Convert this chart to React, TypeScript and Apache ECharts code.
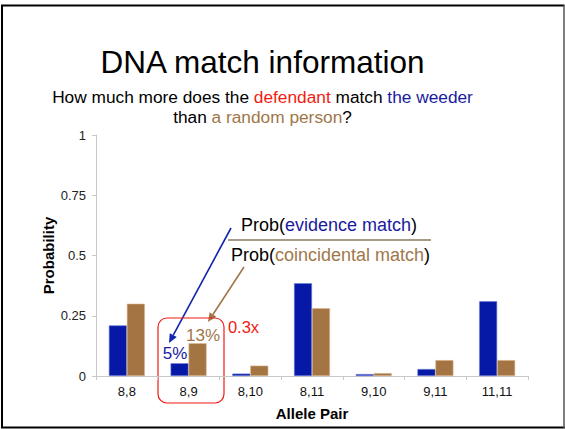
import React, { useEffect, useRef } from "react";
import * as echarts from "echarts";

const categories = ["8,8", "8,9", "8,10", "8,11", "9,10", "9,11", "11,11"];
const evidenceMatch = [0.21, 0.053, 0.01, 0.385, 0.008, 0.029, 0.31];
const coincidentalMatch = [0.3, 0.136, 0.043, 0.281, 0.012, 0.066, 0.066];
const yTicks = [0, 0.25, 0.5, 0.75, 1];

const FONT = "'Liberation Sans', Arial, Helvetica, sans-serif";
const BLUE = "#0619a6";
const BROWN = "#a47443";
const TXT_BLUE = "#1a1a9e";
const TXT_BROWN = "#a0774a";
const RED = "#f21b12";

function arrow(x1: number, y1: number, x2: number, y2: number, color: string) {
  const dx = x2 - x1;
  const dy = y2 - y1;
  const len = Math.sqrt(dx * dx + dy * dy);
  const ux = dx / len;
  const uy = dy / len;
  const hl = 9;
  const hw = 4;
  const bx = x2 - ux * hl;
  const by = y2 - uy * hl;
  const px = -uy * hw;
  const py = ux * hw;
  return [
    {
      type: "line",
      shape: { x1, y1, x2: bx, y2: by },
      style: { stroke: color, lineWidth: 1.6 },
    },
    {
      type: "polygon",
      shape: {
        points: [
          [x2, y2],
          [bx + px, by + py],
          [bx - px, by - py],
        ],
      },
      style: { fill: color },
    },
  ];
}

export default function App() {
  const ref = useRef<HTMLDivElement>(null);

  useEffect(() => {
    document.body.style.margin = "0";
    if (!ref.current) return;
    const chart = echarts.init(ref.current, null, { renderer: "svg" });
    const option: any = {
      animation: false,
      backgroundColor: "#ffffff",
      grid: { left: 96, right: 37, top: 135, bottom: 53 },
      xAxis: {
        type: "category",
        data: categories,
        name: "Allele Pair",
        nameLocation: "middle",
        nameGap: 30,
        nameMoveOverlap: false,
        nameTextStyle: { fontFamily: FONT, fontSize: 15, fontWeight: "bold", color: "#000" },
        axisLine: { show: true, lineStyle: { color: "#c8c8c8", width: 1 } },
        axisTick: { show: true, length: 4, lineStyle: { color: "#c8c8c8" } },
        axisLabel: { fontFamily: FONT, fontSize: 13, color: "#111", margin: 9 },
        splitLine: { show: false },
      },
      yAxis: {
        type: "value",
        min: yTicks[0],
        max: yTicks[yTicks.length - 1],
        interval: 0.25,
        name: "Probability",
        nameLocation: "middle",
        nameGap: 40,
        nameMoveOverlap: false,
        nameRotate: 90,
        nameTextStyle: { fontFamily: FONT, fontSize: 15, fontWeight: "bold", color: "#000" },
        axisLine: { show: true, lineStyle: { color: "#c8c8c8", width: 1 } },
        axisTick: { show: true, length: 4, lineStyle: { color: "#c8c8c8" } },
        axisLabel: {
          fontFamily: FONT,
          fontSize: 13,
          color: "#222",
          margin: 10,
          formatter: (v: number) => String(v),
        },
        splitLine: { show: false },
      },
      series: [
        {
          name: "Evidence match",
          type: "bar",
          data: evidenceMatch,
          barWidth: 18,
          barGap: "0%",
          itemStyle: { color: BLUE, borderColor: "#7080d8", borderWidth: 0.6 },
        },
        {
          name: "Coincidental match",
          type: "bar",
          data: coincidentalMatch,
          barWidth: 18,
          barGap: "0%",
          itemStyle: { color: BROWN, borderColor: "#d8b68e", borderWidth: 0.6 },
        },
      ],
      graphic: [
        // frame
        { type: "line", shape: { x1: 1, y1: 5.5, x2: 564.5, y2: 5.5 }, style: { stroke: "#000", lineWidth: 2 } },
        { type: "line", shape: { x1: 2, y1: 5, x2: 2, y2: 428 }, style: { stroke: "#000", lineWidth: 2 } },
        { type: "line", shape: { x1: 1, y1: 427.5, x2: 565, y2: 427.5 }, style: { stroke: "#000", lineWidth: 2 } },
        { type: "line", shape: { x1: 564, y1: 5, x2: 564, y2: 428 }, style: { stroke: "#555", lineWidth: 1.5 } },
        // title
        {
          type: "text",
          x: 262.5,
          y: 62,
          style: {
            text: "DNA match information",
            fontFamily: FONT,
            fontSize: 31.5,
            fill: "#000",
            align: "center",
            verticalAlign: "middle",
          },
        },
        {
          type: "text",
          x: 262.5,
          y: 97,
          style: {
            text: "{k|How much more does the }{r|defendant}{k| match }{b|the weeder}",
            align: "center",
            verticalAlign: "middle",
            rich: {
              k: { fontFamily: FONT, fontSize: 17.3, fill: "#000" },
              r: { fontFamily: FONT, fontSize: 17.3, fill: RED },
              b: { fontFamily: FONT, fontSize: 17.3, fill: TXT_BLUE },
            },
          },
        },
        {
          type: "text",
          x: 262.5,
          y: 117,
          style: {
            text: "{k|than }{n|a random person}{k|?}",
            align: "center",
            verticalAlign: "middle",
            rich: {
              k: { fontFamily: FONT, fontSize: 17.3, fill: "#000" },
              n: { fontFamily: FONT, fontSize: 17.3, fill: TXT_BROWN },
            },
          },
        },
        // fraction
        {
          type: "text",
          x: 329,
          y: 225,
          style: {
            text: "{k|Prob(}{b|evidence match}{k|)}",
            align: "center",
            verticalAlign: "middle",
            rich: {
              k: { fontFamily: FONT, fontSize: 18, fill: "#000" },
              b: { fontFamily: FONT, fontSize: 18, fill: TXT_BLUE },
            },
          },
        },
        { type: "line", shape: { x1: 228, y1: 240, x2: 431, y2: 240 }, style: { stroke: "#8a7862", lineWidth: 1.5 } },
        {
          type: "text",
          x: 330.5,
          y: 255,
          style: {
            text: "{k|Prob(}{n|coincidental match}{k|)}",
            align: "center",
            verticalAlign: "middle",
            rich: {
              k: { fontFamily: FONT, fontSize: 18, fill: "#000" },
              n: { fontFamily: FONT, fontSize: 18, fill: TXT_BROWN },
            },
          },
        },
        ...arrow(231, 228, 169, 343, "#1024b0"),
        ...arrow(244, 267, 208, 322, "#a0774a"),
        // red box
        {
          type: "rect",
          shape: { x: 158, y: 318, width: 66, height: 85, r: 9 },
          style: { fill: "none", stroke: RED, lineWidth: 1.2 },
        },
        {
          type: "text",
          x: 175,
          y: 353,
          style: { text: "5%", fontFamily: FONT, fontSize: 17, fill: TXT_BLUE, align: "center", verticalAlign: "middle" },
        },
        {
          type: "text",
          x: 203,
          y: 335,
          style: { text: "13%", fontFamily: FONT, fontSize: 17, fill: TXT_BROWN, align: "center", verticalAlign: "middle" },
        },
        {
          type: "text",
          x: 243.5,
          y: 327,
          style: { text: "0.3x", fontFamily: FONT, fontSize: 16.5, fill: RED, align: "center", verticalAlign: "middle" },
        },
      ],
    };
    chart.setOption(option);
    return () => chart.dispose();
  }, []);

  return (
    <div
      ref={ref}
      style={{ position: "absolute", left: 0, top: 0, width: 565, height: 429 }}
    />
  );
}
